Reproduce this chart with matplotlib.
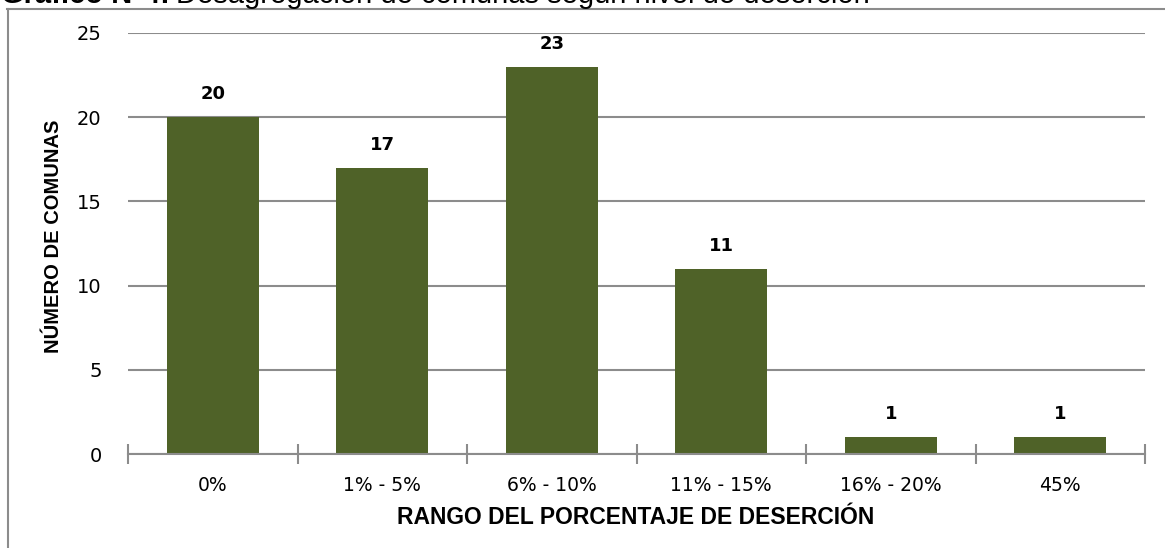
import matplotlib
matplotlib.use("Agg")
import matplotlib.pyplot as plt
from matplotlib.lines import Line2D

categories = ["0%", "1% - 5%", "6% - 10%", "11% - 15%", "16% - 20%", "45%"]
comunas = [20, 17, 23, 11, 1, 1]
yticks = [0, 5, 10, 15, 20, 25]

BAR = "#4F6228"
GREY = "#8C8C8C"
W, H = 1165, 548


def fx(px):
    return px / W


def fy(py):
    return 1 - py / H


fig = plt.figure(figsize=(11.65, 5.48), dpi=100)
ax = fig.add_axes([fx(128), fy(454), fx(1145) - fx(128), fy(33) - fy(454)])

x = range(len(categories))
bars = ax.bar(x, comunas, width=0.54, color=BAR, zorder=3)
for b, v in zip(bars, comunas):
    ax.annotate(str(v), (b.get_x() + b.get_width() / 2, v), xytext=(0, 16.5),
                textcoords="offset points", ha="center", va="center",
                fontsize=13, fontweight="bold", family="DejaVu Sans")

ax.set_xlim(-0.5, len(categories) - 0.5)
ax.set_ylim(0, 25)
ax.set_yticks(yticks)
ax.set_xticks(list(x))
ax.set_xticklabels(categories, fontsize=13.5, family="DejaVu Sans")
ax.set_yticklabels([str(t) for t in yticks], fontsize=14, family="DejaVu Sans")
ax.tick_params(axis="x", length=0, pad=16)
ax.tick_params(axis="y", length=0, pad=19)
ax.set_xticks([i - 0.5 for i in range(len(categories) + 1)], minor=True)
ax.tick_params(axis="x", which="minor", direction="inout", length=15,
               width=1.5, color=GREY)
ax.yaxis.grid(True, color=GREY, linewidth=1.5, zorder=0)
ax.set_axisbelow(True)
for s in ["left", "right", "top"]:
    ax.spines[s].set_visible(False)
ax.spines["bottom"].set_color(GREY)
ax.spines["bottom"].set_linewidth(1.5)
ax.spines["bottom"].set_zorder(4)

fig.text(fx(636), fy(518), "RANGO DEL PORCENTAJE DE DESERCIÓN", ha="center",
         va="center", fontsize=16.5, fontweight="bold", family="Liberation Sans")
fig.text(fx(54), fy(236), "NÚMERO DE COMUNAS", ha="center", va="center",
         rotation=90, fontsize=14.5, fontweight="bold", family="Liberation Sans")

# outer frame (partly cut by the image border)
fig.add_artist(Line2D([fx(7), 1], [fy(9), fy(9)], color=GREY, lw=1.5))
fig.add_artist(Line2D([fx(8), fx(8)], [fy(9), 0], color=GREY, lw=1.5))

# title, mostly cut off at the top
t1 = fig.text(fx(1), fy(3), "Gráfico N°4:", ha="left", va="baseline",
              fontsize=21, fontweight="bold", family="Liberation Sans")
fig.canvas.draw()
bb = t1.get_window_extent()
fig.text(fx(bb.x1 + 6), fy(3), "Desagregación de comunas según nivel de deserción",
         ha="left", va="baseline", fontsize=21, family="Liberation Sans")

fig.savefig("out.png", dpi=100)
